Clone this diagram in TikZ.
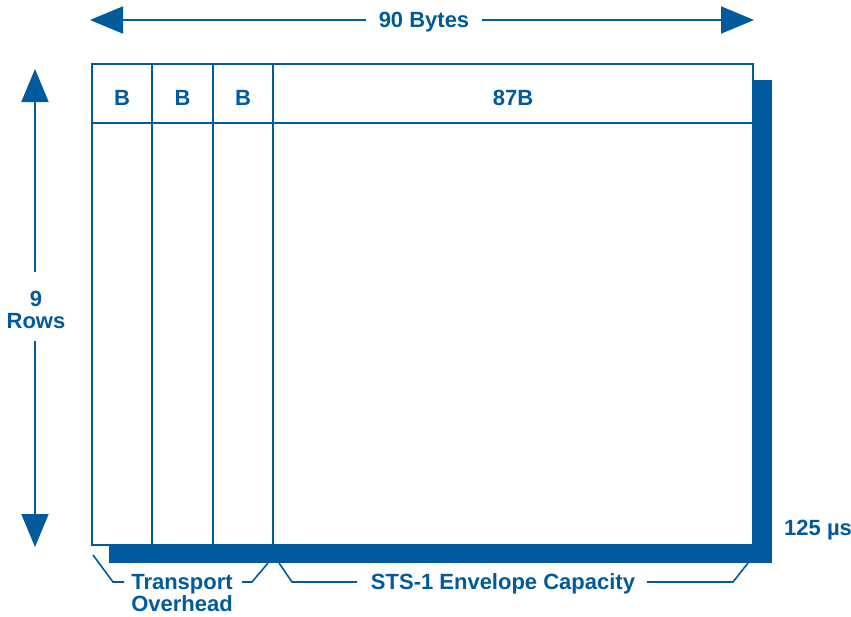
\documentclass[tikz,border=0pt]{standalone}
\usepackage{fontspec}
\setmainfont{Liberation Sans}
\usetikzlibrary{arrows.meta}
\definecolor{sonet}{RGB}{0,90,156}
\tikzset{
  lbl/.style={text=sonet, font=\bfseries\fontsize{22}{22}\selectfont, inner sep=1pt, align=center},
  grid/.style={draw=sonet, line width=1.8pt},
  dim/.style={draw=sonet, line width=1.8pt},
  bigtip/.style={-{Triangle[length=33pt,width=27pt]}},
  brace/.style={draw=sonet, line width=1.6pt}
}
\begin{document}
\begin{tikzpicture}[x=1pt,y=-1pt]
\useasboundingbox (0,0) rectangle (851,616);
% shadow of the frame
\fill[sonet] (753,80) rectangle (772,563);
\fill[sonet] (109,545) rectangle (772,563);
% frame and columns
\fill[white] (92,64) rectangle (753,545);
\draw[grid] (92,64) rectangle (753,545);
\draw[grid] (92,123) -- (753,123);
\foreach \x in {152,213,273} \draw[grid] (\x,64) -- (\x,545);
% header cells
\node[lbl] (b1) at (122,98) {B};
\node[lbl] (b2) at (182.5,98) {B};
\node[lbl] (b3) at (243,98) {B};
\node[lbl] (b4) at (513,98) {87B};
% width dimension
\node[lbl] (bytes) at (424,22) {90 Bytes};
\coordinate (wl) at (90,20);
\coordinate (wr) at (754,20);
\draw[dim,bigtip] (bytes.west |- wl) ++(-12,0) -- (wl);
\draw[dim,bigtip] (bytes.east |- wr) ++(12,0) -- (wr);
% height dimension
\node[lbl] (rows) at (36,310) {9\\Rows};
\coordinate (ht) at (35,69);
\coordinate (hb) at (35,547);
\draw[dim,bigtip] (35,272) -- (ht);
\draw[dim,bigtip] (35,341) -- (hb);
% duration
\node[lbl,anchor=west] (us) at (783,530) {125 \textmu s};
% braces under the frame
\node[lbl,inner sep=0pt] (toh) at (182,593.5) {Transport\\Overhead};
\node[lbl] (spe) at (503,584) {STS-1 Envelope Capacity};
\coordinate (t0) at (93,555);
\coordinate (t1) at (268,563);
\coordinate (s0) at (279,563);
\coordinate (s1) at (748,563);
\draw[brace] (t0) -- (113,582) -- (124,582);
\draw[brace] (242,582) -- (252,582) -- (t1);
\draw[brace] (s0) -- (292,582) -- (357,582);
\draw[brace] (647,582) -- (733,582) -- (s1);
\end{tikzpicture}
\end{document}
